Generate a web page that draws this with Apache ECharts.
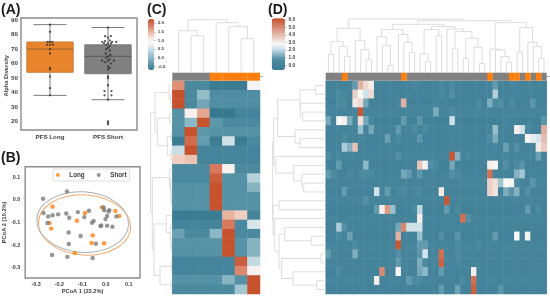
<!DOCTYPE html>
<html><head><meta charset="utf-8">
<style>html,body{margin:0;padding:0;background:#fff}#c{width:550px;height:297px;filter:blur(.35px)}</style>
<script src="https://cdn.jsdelivr.net/npm/echarts@6/dist/echarts.min.js"></script>
</head><body><div id="c"></div>
<script>
// ---------- Panel A ----------
const boxCats = ['PFS Long','PFS Short'];
const boxStats = [[38,54,70,75,87],[35,53,65,73,85]]; // min,q1,median,q3,max
const swarmLong = [[0,87],[0,82],[-.04,75],[.04,75],[0,75],[-.05,73],[.05,73],[0,73],[0,70],[0,67],[0,57],[0,56],[0,51],[0,43],[0,38]];
const swarmShort = [[0,85],[-.05,79],[.05,79],[0,78],[-.1,75],[.03,76],[.14,75],[-.05,75.5],[.07,75],[-.07,74],[0,74],[.05,74],[-.03,73],[.03,72],[0,71],[-.03,70],[.03,69],[-.04,67],[.04,66],[0,65],[-.03,64],[.03,63],[-.1,62],[0,62],[.1,62],[-.05,61],[.05,60],[0,58],[.03,57],[0,56],[0,51],[0,50],[0,45],[-.06,41],[.06,41],[-.06,38],[.06,38],[0,35],[0,20],[0,19],[0,18]];
// ---------- Panel B ----------
const pcoaLong = [[-.229,-.030],[-.242,-.102],[-.235,-.127],[-.124,-.092],[-.089,-.058],[-.056,-.157],[-.061,-.191],[-.007,-.192],[-.133,-.235],[.042,-.049],[.058,-.071],[-.016,-.033]];
const pcoaShort = [[-.167,.038],[-.270,.005],[-.268,-.058],[-.248,-.073],[-.229,-.068],[-.205,-.064],[-.170,-.060],[-.157,-.079],[-.120,-.054],[-.072,-.048],[-.092,-.076],[-.251,-.102],[-.160,-.144],[-.108,-.160],[-.159,-.195],[-.042,-.194],[-.231,-.244],[-.165,-.252],[-.056,-.257],[-.059,-.101],[-.052,-.093],[-.023,-.116],[-.019,-.113],[.006,-.114],[.029,-.119],[-.009,-.033],[-.006,-.046],[.013,-.051],[.016,-.045],[.006,-.071],[-.001,-.085],[.046,-.073]];
const ellipses = [[-.091,-.111,.199,.133,'#f2ad74'],[-.099,-.098,.198,.134,'#b0b0b0']]; // cx,cy,rx,ry,colour
const pcoaTicksX = [-.3,-.2,-.1,0,.1];
const pcoaTicksY = [-.3,-.2,-.1,0,.1];
// ---------- Panel C ----------
const heatC = [
 [1.75,-.5,-.5,-.65,-.65,-.65,.9],
 [2.2,-.5,.05,-.45,-.45,-.45,-.45],
 [2.2,-.5,-.2,-.45,-.45,-.45,-.45],
 [-.4,1.05,1.6,-.7,-.7,-.55,-.55],
 [-.4,0,2.2,-.35,-.5,-.5,-.5],
 [-.4,2.2,-.35,-.4,-.4,-.4,-.4],
 [-.65,2.0,-.3,-.65,.55,-.65,-.5],
 [.5,2.2,-.55,-.55,-.55,-.55,-.55],
 [1.3,1.4,-.55,-.55,-.55,-.55,-.55],
 [-.5,-.5,-.5,1.9,1.0,-.5,-.5],
 [-.5,-.5,-.5,2.1,-.4,-.4,.35],
 [-.4,-.4,-.4,2.2,-.4,-.4,-.05],
 [-.4,-.4,-.4,2.2,-.4,-.4,-.4],
 [-.4,-.4,-.4,2.2,-.4,-.4,-.4],
 [-.65,-.65,-.65,-.65,1.5,1.3,-.55],
 [-.55,-.55,-.55,-.55,1.9,-.5,.6],
 [-.25,-.5,-.5,0,2.2,-.5,-.5],
 [-.4,-.4,-.4,-.4,2.2,-.4,-.05],
 [-.4,-.4,-.4,-.4,2.2,-.4,-.05],
 [-.55,-.55,-.55,-.55,-.55,2.1,.45],
 [-.55,-.55,-.55,-.55,-.55,1.8,1.0],
 [-.4,-.4,-.4,-.4,-.05,-.4,2.2],
 [-.5,-.5,-.5,-.5,-.5,.2,2.2]
];
const annotC = [0,0,0,1,1,1,1];
const treeColC = [52,[41,0,[36,1,2]],[49,3,[45,4,[33,5,6]]]];
const treeRowC = [21.7,
 [17.3,[3.3,0,[1.7,1,2]],[15,[2.7,3,4],[5,[1,5,6],[1.5,7,8]]]],
 [20,[2.7,9,[1.8,10,[1.2,11,[1,12,13]]]],
  [18.3,[6,14,[2,15,[1.5,16,[1,17,18]]]],[12.3,[1,19,20],[1.2,21,22]]]]];
const barTicksC = [-.5,0,.5,1,1.5,2];
const coloursC = ['#37788f','#5592a6','#80b0be','#a0c6d0','#c6dce3','#f0f5f6','#faf0eb','#eec8b9','#e2a087','#d47355','#c44e2a'];
// ---------- Panel D ----------
const baseD = [.05,.05,0,.12,-.05,.05,.05,.05,.1,-.03,.05,.1,-.03,.12,-.03,.1,.05,0,.1,.1,.1,.05,.1,.05];
const cellsD = [
 [[5,1],[6,4.2],[7,3.4],[8,3],[16,.4],[21,.6],[23,.5],[31,1],[34,.3]],
 [[2,.7],[3,.3],[5,3.6],[6,2.8],[7,2.2],[8,3.4],[21,.5],[23,.8],[31,1.9]],
 [[2,.6],[3,.7],[5,3.1],[6,3.4],[7,1.2],[13,.4],[14,4.2],[20,.3],[28,.6],[30,1.3],[31,.6],[32,.8],[34,.6],[38,.9]],
 [[6,6],[20,1.3],[23,.7]],
 [[0,1.2],[1,0],[2,2.8],[3,3],[4,1.3],[5,.2],[6,3.3],[7,1.2],[8,.3],[14,1],[17,.9],[23,2.2],[33,.2],[40,.9]],
 [[6,1.6],[8,1.2],[13,1],[16,.7],[18,.7],[31,1.6],[35,3],[36,2.2],[37,.5],[40,4.3]],
 [[3,.7],[6,.3],[11,1.1],[13,.7],[17,.9],[23,.4],[30,.7],[31,1.3],[37,2.9],[38,2.5],[39,2.3],[40,4]],
 [[3,1.8],[4,1.4],[5,3.9],[31,.4],[33,1.1],[35,.8],[39,3.1],[40,3.7]],
 [[0,.7],[2,.4],[13,.8],[23,6],[24,1.4],[26,.5],[33,.4],[39,1.1]],
 [[2,1],[7,1.5],[17,3.8],[18,2.9],[19,.8],[20,.5],[23,1.2],[30,3],[31,2.8],[33,.8],[35,.7],[36,.9]],
 [[0,1],[1,.6],[4,.5],[6,.5],[7,.6],[8,.6],[14,1.2],[15,1],[17,.9],[23,.8],[24,.7],[30,5.5],[35,1.4],[36,1.7]],
 [[30,3.6],[31,3.3],[32,1.7],[33,2.8],[34,2.9],[35,.7],[38,.9]],
 [[3,1],[9,2.2],[10,.2],[11,1],[13,.4],[14,.6],[16,.3],[17,.6],[21,3.1],[30,3.6],[31,3.2],[33,1.3],[34,.9],[35,1.4],[37,.8]],
 [[7,.8],[22,6]],
 [[9,1],[10,3],[11,4.7],[12,1.6],[16,.7],[17,2],[22,1],[24,.6],[37,1],[39,.7]],
 [[17,3],[25,5.5],[26,.8]],
 [[2,1.8],[3,.8],[13,1.2],[14,5],[15,2.2],[16,2.2],[17,2.2]],
 [[2,.6],[3,.1],[4,1.1],[13,4.2],[17,1.6],[21,.8],[24,.9],[31,1],[35,2.8],[37,2.9]],
 [[5,.7],[13,6],[17,1],[18,1],[24,.7],[28,.5]],
 [[0,1],[4,0],[5,1.3],[13,.8],[17,.9],[18,2.3],[21,5.5],[24,.7]],
 [[13,1],[17,1.3],[18,.5],[21,5.8],[24,.4]],
 [[0,-.1],[2,.6],[10,5],[13,2.8],[17,1.2],[18,1.5],[21,1],[27,3]],
 [[9,3],[15,1],[16,.6],[17,.5],[25,.6],[27,5.5]],
 [[21,1],[24,1.1],[27,5.8],[32,.9]]
];
const orangeColsD = [3,14,30,34,35,37,39];
const nColsD = 41;
const treeColD = [53.3,
 [44,[30.7,[18,0,1],[26,2,[16,3,4]]],[32,5,[22.7,6,[12.7,7,8]]]],
 [51.6,
  [48,
   [42.7,[35.7,9,[26.7,10,[6.7,11,12]]],[37.7,13,[30,14,[19.7,15,16]]]],
   [45.7,[42.7,[18.3,17,[11,18,19]],[36.7,20,21]],
         [43.3,22,[40.7,[24,23,24],[34,[14,25,26],[25,27,[9,28,29]]]]]]],
  [49.6,[23.3,30,[22.3,31,[15.7,32,[10,33,34]]]],
        [44.7,[20,35,36],[30,37,[25.7,38,[14,39,40]]]]]]];
const treeRowD = [53,
 [52,
  [48,[25.7,[10,0,1],[25,2,[23,3,4]]],[30.7,5,[25.7,6,7]]],
  [50,8,[32,9,[24,10,[22,11,12]]]]],
 [52.7,[46.7,13,14],
  [51,15,[46.7,[41,16,[14,17,18]],
          [44,[4.7,19,20],[32.7,21,[9,22,23]]]]]]];
const barTicksD = [0,1,2,3,4,5,6];
const coloursD = ['#3a7a91','#44839a','#4e8ca2','#87b4c3','#c8dee6','#f8f8f8','#eed6cf','#e3b4a6','#d9927c','#ce7053','#c44e2a'];

// ---------- helpers ----------
const TXT='#3c3c3c', FONT='"Liberation Sans",Arial,sans-serif', DEND='#dcdcdc', ORANGE='#ff7f0e', GRAY='#808080';
function walk(n,out){
  if(typeof n==='number') return {p:n+.5,h:0};
  const l=walk(n[1],out), r=walk(n[2],out);
  out.push([l.p,l.h,r.p,r.h,n[0]]);
  return {p:(l.p+r.p)/2,h:n[0]};
}
function treeData(t){const o=[];walk(t,o);return o;}
function treeRender(vertical){return function(params,api){
  const p1=api.value(0),h1=api.value(1),p2=api.value(2),h2=api.value(3),h=api.value(4);
  const pts=[[p1,h1],[p1,h],[p2,h],[p2,h2]].map(a=>api.coord(vertical?a:[a[1],a[0]]));
  return {type:'polyline',shape:{points:pts},style:{stroke:DEND,fill:'none',lineWidth:1}};
};}
const grids=[],xAxes=[],yAxes=[],series=[];
function addGrid(l,t,w,h,x,y){
  const i=grids.length;
  grids.push(Object.assign({left:l,top:t,width:w,height:h,show:false},{}));
  xAxes.push(Object.assign({gridIndex:i,type:'value',show:false,splitLine:{show:false}},x));
  yAxes.push(Object.assign({gridIndex:i,type:'value',show:false,splitLine:{show:false}},y));
  return i;
}
const labelStyle=(size,extra)=>Object.assign({color:TXT,fontFamily:FONT,fontWeight:'bold',fontSize:size},extra||{});
function heat(mat){const o=[];mat.forEach((row,r)=>row.forEach((v,c)=>o.push([c,r,v])));return o;}
function idx(n){return Array.from({length:n},(_,i)=>i);}
const matrixD = baseD.map((b,r)=>{const row=new Array(nColsD).fill(b);cellsD[r].forEach(([c,v])=>row[c]=v);return row;});
const annotD = idx(nColsD).map(i=>orangeColsD.includes(i)?1:0);

// Panel A
let g=addGrid(21,18,116,112,
 {show:true,min:-.5,max:1.5,axisLine:{show:false},axisTick:{show:false},
  axisLabel:Object.assign({customValues:[0,1],margin:4,formatter:v=>boxCats[Math.round(v)]},labelStyle(6.2))},
 {show:true,min:14,max:91.6,axisLine:{show:false},axisTick:{show:false},
  axisLabel:Object.assign({customValues:[20,30,40,50,60,70,80,90],margin:3},labelStyle(6.2))});
grids[g].show=true;grids[g].borderColor='#8a8a8a';grids[g].borderWidth=1.4;
series.push({type:'custom',xAxisIndex:g,yAxisIndex:g,silent:true,clip:false,z:2,
 data:boxStats.map((s,i)=>[i].concat(s)),
 encode:{x:0,y:[1,2,3,4,5]},
 renderItem(p,api){
  const x=api.value(0),mn=api.value(1),q1=api.value(2),md=api.value(3),q3=api.value(4),mx=api.value(5);
  const c=(a,b)=>api.coord([a,b]);
  const bw=.4,cw=.285,col=x===0?'#e8842c':'#808080',edge=x===0?'#c9833f':'#777';
  const L=(a,b,st)=>({type:'line',shape:{x1:a[0],y1:a[1],x2:b[0],y2:b[1]},style:Object.assign({stroke:'#5a5a5a',lineWidth:.8},st||{})});
  const tl=c(x-bw,q3),br=c(x+bw,q1);
  return {type:'group',children:[
   L(c(x,q3),c(x,mx)),L(c(x,q1),c(x,mn)),
   L(c(x-cw,mx),c(x+cw,mx)),L(c(x-cw,mn),c(x+cw,mn)),
   {type:'rect',shape:{x:tl[0],y:tl[1],width:br[0]-tl[0],height:br[1]-tl[1]},style:{fill:col,stroke:edge,lineWidth:1}},
   L(c(x-bw,md),c(x+bw,md),{stroke:x===0?'#a8682f':'#5f5f5f',lineWidth:1.2})
  ]};
 }});
[[swarmLong,0],[swarmShort,1]].forEach(([pts,cat])=>series.push({type:'scatter',xAxisIndex:g,yAxisIndex:g,silent:true,z:3,symbolSize:2.3,
 itemStyle:{color:'#2e2e2e'},data:pts.map(p=>[cat+p[0],p[1]])}));

// Panel B
g=addGrid(25,166.7,115,111.3,
 {show:true,min:-.347,max:.148,name:'PCoA 1 (23.2%)',nameLocation:'middle',nameGap:10.5,nameTextStyle:labelStyle(5.7),
  axisLine:{show:false},axisTick:{show:false},
  axisLabel:Object.assign({customValues:pcoaTicksX,margin:4,formatter:v=>v.toFixed(1)},labelStyle(5.4))},
 {show:true,min:-.3456,max:.147,name:'PCoA 2 (10.2%)',nameLocation:'middle',nameGap:16,nameTextStyle:labelStyle(5.7),
  axisLine:{show:false},axisTick:{show:false},
  axisLabel:Object.assign({customValues:pcoaTicksY,margin:5,formatter:v=>v.toFixed(1)},labelStyle(5.4))});
grids[g].show=true;grids[g].borderColor='#8a8a8a';grids[g].borderWidth=1.4;
series.push({type:'custom',xAxisIndex:g,yAxisIndex:g,silent:true,z:2,clip:false,
 data:ellipses.map((e,i)=>[e[0],e[1],e[2],e[3],i]),
 renderItem(p,api){
  const e=ellipses[api.value(4)],ctr=api.coord([e[0],e[1]]);
  const ex=api.coord([e[0]+e[2],e[1]]),ey=api.coord([e[0],e[1]+e[3]]);
  return {type:'ellipse',shape:{cx:0,cy:0,rx:Math.abs(ex[0]-ctr[0]),ry:Math.abs(ey[1]-ctr[1])},
   x:ctr[0],y:ctr[1],rotation:-.07,
   style:{stroke:e[4],fill:'none',lineWidth:1}};
 }});
series.push({type:'scatter',name:'Long',xAxisIndex:g,yAxisIndex:g,symbolSize:4.4,z:3,itemStyle:{color:ORANGE},data:pcoaLong});
series.push({type:'scatter',name:'Short',xAxisIndex:g,yAxisIndex:g,symbolSize:4.4,z:4,itemStyle:{color:'#7a7a7a'},data:pcoaShort});

// Clustered heatmap builder
function cluster(o){
  const nR=o.matrix.length,nC=o.matrix[0].length;
  const gh=addGrid(o.x,o.y,o.w,o.h,
   {type:'category',data:idx(nC),boundaryGap:true},{type:'category',data:idx(nR),inverse:true,boundaryGap:true});
  const hi=series.length;
  series.push({type:'heatmap',xAxisIndex:gh,yAxisIndex:gh,silent:true,data:heat(o.matrix),itemStyle:{borderWidth:0},progressive:0});
  const ga=addGrid(o.x,o.annoY,o.w,o.annoH,
   {type:'category',data:idx(nC),boundaryGap:true},
   {show:true,position:'right',min:0,max:1,axisLine:{show:false},axisLabel:{show:false},
    axisTick:{show:true,length:3,customValues:[.5],lineStyle:{color:'#999',width:.8}}});
  // gray cells are drawn first, orange cells on a second layer, so no seams show between neighbours
  series.push({type:'bar',xAxisIndex:ga,yAxisIndex:ga,silent:true,barWidth:o.w/nC+1,barGap:'-100%',z:2,
   data:o.annot.map(a=>a?0:1),itemStyle:{color:GRAY}});
  series.push({type:'bar',xAxisIndex:ga,yAxisIndex:ga,silent:true,barWidth:o.w/nC+.2,barGap:'-100%',z:3,
   data:o.annot.map(a=>a?1:0),itemStyle:{color:ORANGE}});
  const gc=addGrid(o.x,o.dendBottom-60,o.w,60,{min:0,max:nC},{min:0,max:60});
  series.push({type:'custom',xAxisIndex:gc,yAxisIndex:gc,silent:true,clip:false,data:treeData(o.colTree),renderItem:treeRender(true)});
  const gr=addGrid(o.x-o.rowW,o.y,o.rowW,o.h,{min:0,max:o.rowMax,inverse:true},{min:0,max:nR,inverse:true});
  series.push({type:'custom',xAxisIndex:gr,yAxisIndex:gr,silent:true,clip:false,data:treeData(o.rowTree),renderItem:treeRender(false)});
  const gb=addGrid(o.barX+o.barW,o.barY,1,o.barH,{},
   {show:true,position:'left',min:o.min,max:o.max,axisLine:{show:false},
    axisTick:{show:true,inside:false,length:1.5,customValues:o.ticks,lineStyle:{color:'#888',width:.6}},
    axisLabel:Object.assign({customValues:o.ticks,margin:2.5,formatter:v=>v.toFixed(1)},labelStyle(o.barFont))});
  yAxes[gb].position='right';
  return {seriesIndex:hi,type:'continuous',dimension:2,min:o.min,max:o.max,left:o.barX,top:o.barY,
   itemWidth:o.barW,itemHeight:o.barH,padding:0,calculable:false,hoverLink:false,inRange:{color:o.colours}};
}
const vmC=cluster({matrix:heatC,annot:annotC,colTree:treeColC,rowTree:treeRowC,x:172.3,y:81,w:87.7,h:213,annoY:72.7,annoH:8,dendBottom:71.7,
 rowW:30,rowMax:30,barX:148,barY:19,barW:6.3,barH:51,min:-.69,max:2.23,ticks:barTicksC,barFont:4.4,colours:coloursC});
const vmD=cluster({matrix:matrixD,annot:annotD,colTree:treeColD,rowTree:treeRowD,x:325.7,y:81,w:221,h:213,annoY:72.7,annoH:8,dendBottom:72.3,
 rowW:60,rowMax:60,barX:271.7,barY:18.3,barW:13.3,barH:51.7,min:-.62,max:6.2,ticks:barTicksD,barFont:4.8,colours:coloursD});

const letters=[['(A)',1,3],['(B)',1,151],['(C)',147,3],['(D)',268,3]];
const chart=echarts.init(document.getElementById('c'),null,{renderer:'canvas'});
chart.setOption({
 animation:false,backgroundColor:'#fff',
 title:letters.map(l=>({text:l[0],left:l[1],top:l[2],padding:0,textStyle:{fontFamily:FONT,fontWeight:'bold',fontSize:14,color:'#1a1a1a'}})),
 grid:grids,xAxis:xAxes,yAxis:yAxes,series:series,visualMap:[vmC,vmD],
 legend:{data:['Long','Short'],left:53,top:169,orient:'horizontal',itemWidth:13,itemHeight:4,itemGap:12,padding:[3,3,3,2.8],
  borderColor:'#d4d4d4',borderWidth:.8,borderRadius:1,backgroundColor:'#fff',
  textStyle:labelStyle(6.3)},
 graphic:[{type:'text',left:3,top:55,rotation:Math.PI/2,style:{text:'Alpha Diversity',fill:TXT,font:'bold 5.7px '+FONT}}]
});
</script></body></html>
